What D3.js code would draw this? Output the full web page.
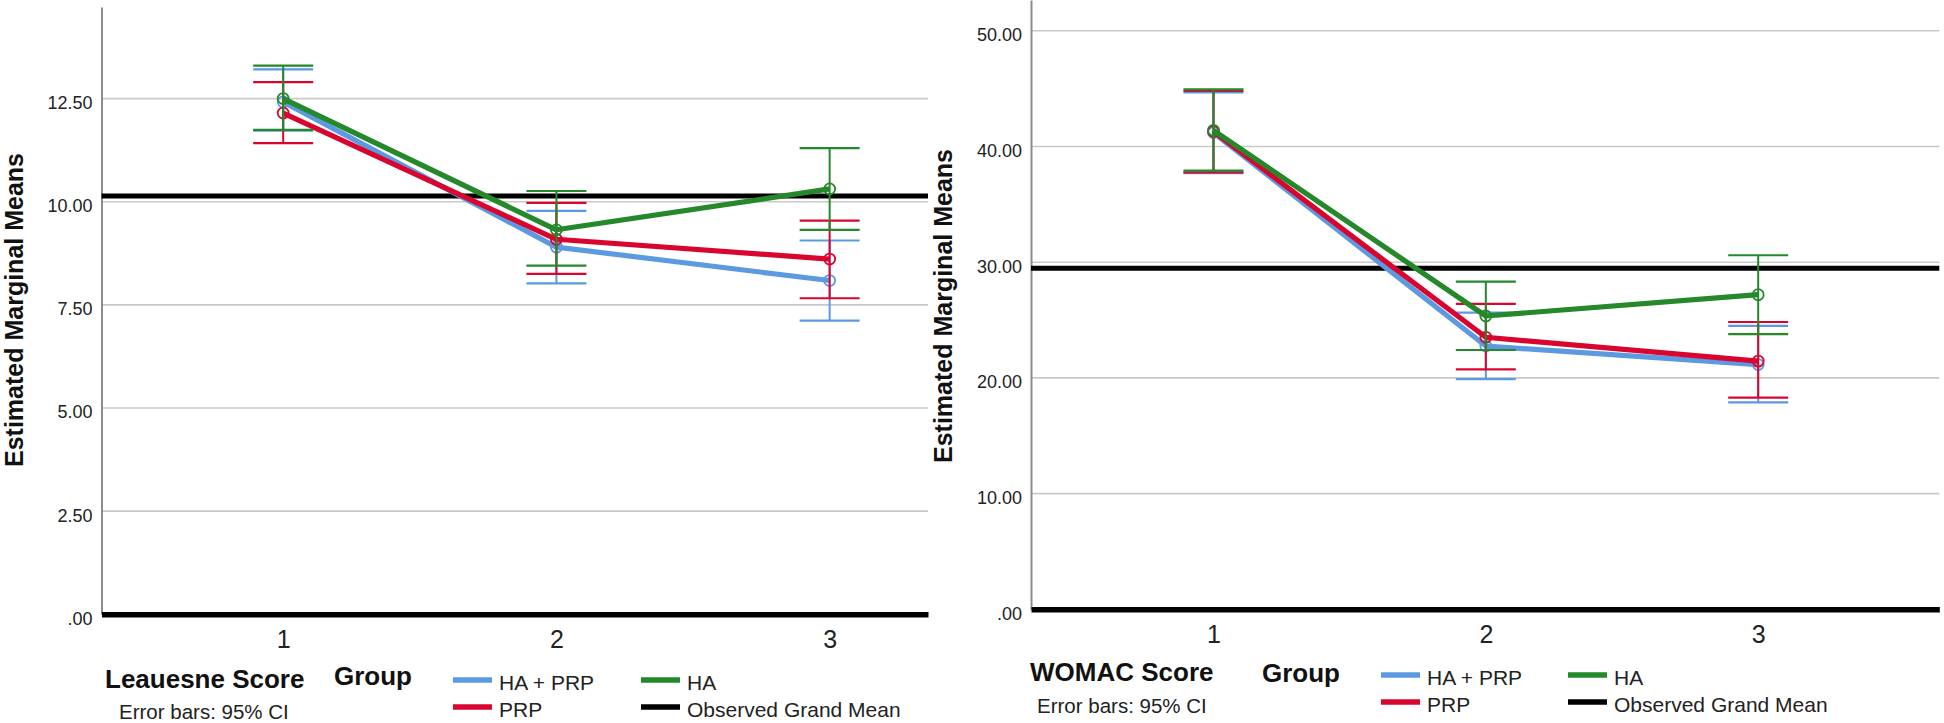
<!DOCTYPE html>
<html>
<head>
<meta charset="utf-8">
<script src="https://cdn.jsdelivr.net/npm/d3@7"></script>
<style>
  html, body { margin: 0; padding: 0; background: #fff; }
  svg { display: block; font-family: "Liberation Sans", Arial, sans-serif; }
</style>
</head>
<body>
<svg id="chart" width="1944" height="723"></svg>
<script>
// ---------------- data ----------------
const categories = [1, 2, 3];
const seriesNames = ["HA + PRP", "PRP", "HA"];
const seriesColors = ["#5b9ae0", "#d8062f", "#25882a"];

// Lequesne score (left panel)
const leqHaPrpMean = [12.42, 8.90, 8.09];
const leqHaPrpLow  = [11.72, 8.02, 7.12];
const leqHaPrpHigh = [13.21, 9.78, 9.06];
const leqPrpMean   = [12.15, 9.09, 8.61];
const leqPrpLow    = [11.42, 8.25, 7.66];
const leqPrpHigh   = [12.90, 9.97, 9.54];
const leqHaMean    = [12.50, 9.32, 10.31];
const leqHaLow     = [11.74, 8.45, 9.32];
const leqHaHigh    = [13.30, 10.26, 11.30];
const leqGrandMean = 10.14;
const leqTicks = [0, 2.5, 5, 7.5, 10, 12.5];

// WOMAC score (right panel)
const womHaPrpMean = [41.20, 22.75, 21.15];
const womHaPrpLow  = [37.70, 19.90, 17.89];
const womHaPrpHigh = [44.68, 25.64, 24.49];
const womPrpMean   = [41.30, 23.51, 21.45];
const womPrpLow    = [37.77, 20.74, 18.29];
const womPrpHigh   = [44.80, 26.39, 24.83];
const womHaMean    = [41.40, 25.35, 27.19];
const womHaLow     = [37.91, 22.41, 23.79];
const womHaHigh    = [44.94, 28.32, 30.60];
const womGrandMean = 29.47;
const womTicks = [0, 10, 20, 30, 40, 50];

const yTitle = "Estimated Marginal Means";
const ciNote = "Error bars: 95% CI";
const legendTitle = "Group";
const grandMeanLabel = "Observed Grand Mean";

// ---------------- drawing ----------------
const svg = d3.select("#chart");
const FONT = "'Liberation Sans', Arial, sans-serif";

function panel(cfg) {
  const g = svg.append("g");
  const x = d3.scaleLinear().domain(cfg.xDomain).range([cfg.left, cfg.right]);
  const y = d3.scaleLinear().domain(cfg.yDomain).range([cfg.bottom, cfg.top]);

  // gridlines
  g.append("g").selectAll("line").data(cfg.ticks.filter(t => t !== 0)).join("line")
    .attr("x1", cfg.left).attr("x2", cfg.right)
    .attr("y1", d => y(d)).attr("y2", d => y(d))
    .attr("stroke", "#c9c9c9").attr("stroke-width", 1.6);

  // y axis
  const yAxis = d3.axisLeft(y).tickValues(cfg.ticks).tickSize(0).tickPadding(9)
    .tickFormat(d => d === 0 ? ".00" : d3.format(".2f")(d));
  const ya = g.append("g").attr("transform", `translate(${cfg.left},0)`).call(yAxis);
  ya.select(".domain").attr("stroke", "#8c8c8c").attr("stroke-width", 2);
  ya.selectAll("text").attr("font-family", FONT).attr("font-size", 18)
    .attr("fill", "#222").attr("dy", "0.55em");

  // grand mean line
  g.append("line")
    .attr("x1", cfg.left).attr("x2", cfg.right)
    .attr("y1", y(cfg.grand)).attr("y2", y(cfg.grand))
    .attr("stroke", "#000").attr("stroke-width", 5);

  // x axis
  const xAxis = d3.axisBottom(x).tickValues(categories).tickSize(0).tickSizeOuter(0).tickPadding(16)
    .tickFormat(d3.format("d"));
  const xa = g.append("g").attr("transform", `translate(0,${cfg.bottom})`).call(xAxis);
  xa.select(".domain").attr("stroke", "#000").attr("stroke-width", 5.5);
  xa.selectAll("text").attr("font-family", FONT).attr("font-size", 25).attr("fill", "#222");

  // y title
  g.append("text")
    .attr("transform", `translate(${cfg.titleX},${cfg.titleY}) rotate(-90)`)
    .attr("text-anchor", "middle")
    .attr("font-family", FONT).attr("font-weight", "bold").attr("font-size", 25)
    .attr("fill", "#111").text(yTitle);

  // series
  const series = cfg.series;
  series.forEach((s, i) => {
    const color = seriesColors[i];
    const sg = g.append("g");
    const pts = categories.map((c, k) => ({ c, m: s.mean[k], lo: s.low[k], hi: s.high[k] }));
    // error bars
    sg.selectAll("line.stem").data(pts).join("line").attr("class", "stem")
      .attr("x1", d => x(d.c)).attr("x2", d => x(d.c))
      .attr("y1", d => y(d.lo)).attr("y2", d => y(d.hi))
      .attr("stroke", color).attr("stroke-width", 2);
    ["lo", "hi"].forEach(key => {
      sg.selectAll("line.cap-" + key).data(pts).join("line").attr("class", "cap-" + key)
        .attr("x1", d => x(d.c) - 30).attr("x2", d => x(d.c) + 30)
        .attr("y1", d => y(d[key])).attr("y2", d => y(d[key]))
        .attr("stroke", color).attr("stroke-width", 2.2);
    });
    // line
    sg.append("path").datum(pts)
      .attr("d", d3.line().x(d => x(d.c)).y(d => y(d.m)))
      .attr("fill", "none").attr("stroke", color).attr("stroke-width", 5.2)
      .attr("stroke-linejoin", "round");
    // markers
    sg.selectAll("circle").data(pts).join("circle")
      .attr("cx", d => x(d.c)).attr("cy", d => y(d.m)).attr("r", 5.5)
      .attr("fill", "none").attr("stroke", color).attr("stroke-width", 1.8);
  });

  // legend
  const L = cfg.legend;
  g.append("text").attr("x", L.titleX).attr("y", L.titleY)
    .attr("font-family", FONT).attr("font-weight", "bold").attr("font-size", 26)
    .attr("fill", "#111").text(cfg.scoreName);
  g.append("text").attr("x", L.groupX).attr("y", L.groupY)
    .attr("font-family", FONT).attr("font-weight", "bold").attr("font-size", 26)
    .attr("fill", "#111").text(legendTitle);
  g.append("text").attr("x", L.noteX).attr("y", L.noteY)
    .attr("font-family", FONT).attr("font-size", 20.5)
    .attr("fill", "#222").text(ciNote);

  const items = [
    { label: seriesNames[0], color: seriesColors[0], col: 0, row: 0 },
    { label: seriesNames[1], color: seriesColors[1], col: 0, row: 1 },
    { label: seriesNames[2], color: seriesColors[2], col: 1, row: 0 },
    { label: grandMeanLabel, color: "#000", col: 1, row: 1 }
  ];
  items.forEach(it => {
    const sx = L.colX[it.col];
    const sy = L.rowY[it.row];
    g.append("line").attr("x1", sx).attr("x2", sx + 39).attr("y1", sy).attr("y2", sy)
      .attr("stroke", it.color).attr("stroke-width", 5.5);
    g.append("text").attr("x", sx + 46).attr("y", sy + 10)
      .attr("font-family", FONT).attr("font-size", 21).attr("fill", "#222").text(it.label);
  });
}

panel({
  xDomain: [0.335, 3.36], yDomain: [0, 14.72],
  left: 101.5, right: 928, top: 7, bottom: 614.3,
  ticks: leqTicks, grand: leqGrandMean,
  titleX: 23, titleY: 310,
  scoreName: "Leauesne Score",
  series: [
    { mean: leqHaPrpMean, low: leqHaPrpLow, high: leqHaPrpHigh },
    { mean: leqPrpMean, low: leqPrpLow, high: leqPrpHigh },
    { mean: leqHaMean, low: leqHaLow, high: leqHaHigh }
  ],
  legend: {
    titleX: 105, titleY: 688, groupX: 334, groupY: 685, noteX: 119, noteY: 719,
    colX: [453, 641], rowY: [680, 707]
  }
});

panel({
  xDomain: [0.33, 3.665], yDomain: [0, 52.66],
  left: 1031, right: 1939.3, top: 0, bottom: 609.3,
  ticks: womTicks, grand: womGrandMean,
  titleX: 952, titleY: 306,
  scoreName: "WOMAC Score",
  series: [
    { mean: womHaPrpMean, low: womHaPrpLow, high: womHaPrpHigh },
    { mean: womPrpMean, low: womPrpLow, high: womPrpHigh },
    { mean: womHaMean, low: womHaLow, high: womHaHigh }
  ],
  legend: {
    titleX: 1030, titleY: 681, groupX: 1262, groupY: 682, noteX: 1037, noteY: 713,
    colX: [1381, 1568], rowY: [675, 702]
  }
});
</script>
</body>
</html>
